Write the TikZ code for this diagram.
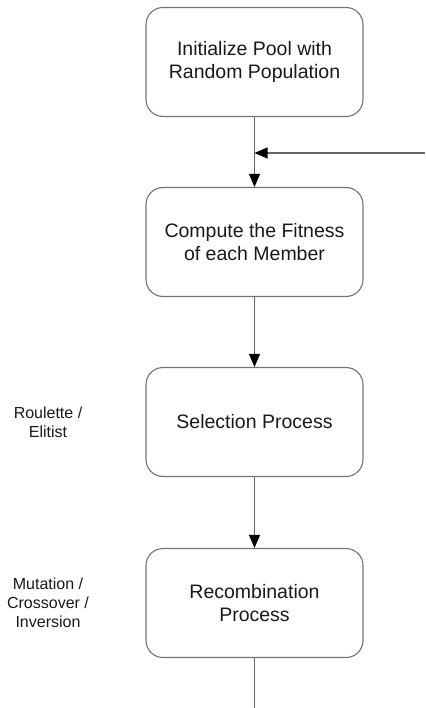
\documentclass[tikz,border=0pt]{standalone}
\usepackage{fontspec}
\setmainfont{Liberation Sans}
\usetikzlibrary{arrows.meta}
\begin{document}
\begin{tikzpicture}[x=1pt, y=-1pt,
    proc/.style={rectangle, rounded corners=17pt, draw=black!55, line width=1.1pt,
      minimum width=217pt, minimum height=109pt, align=center, text=black!90,
      font=\fontsize{19.5}{23}\selectfont},
    side/.style={align=center, text=black!90, font=\fontsize{16}{19}\selectfont},
    flow/.style={draw=black!60, line width=1.1pt, -{Triangle[length=13pt, width=11pt, color=black]}},
    plain/.style={draw=black!60, line width=1.1pt}]
    \useasboundingbox (0,0) rectangle (425,708);
    \node[proc] (P1) at (254.5,62) {Initialize Pool with\\Random Population};
    \node[proc] (P2) at (254.5,242) {Compute the Fitness\\of each Member};
    \node[proc] (P3) at (254.5,422) {Selection Process};
    \node[proc] (P4) at (254.5,603) {Recombination\\Process};
    \node[side] (S3) at (48,422) {Roulette /\\Elitist};
    \node[side] (S4) at (48,603) {Mutation /\\Crossover /\\Inversion};
    \coordinate (J) at (254.5,153);
    \coordinate (R) at (425,153);
    \coordinate (E) at (254.5,708);
    \draw[flow] (P1) -- (P2);
    \draw[flow] (R) -- (J);
    \draw[flow] (P2) -- (P3);
    \draw[flow] (P3) -- (P4);
    \draw[plain] (P4) -- (E);
  \end{tikzpicture}
\end{document}
